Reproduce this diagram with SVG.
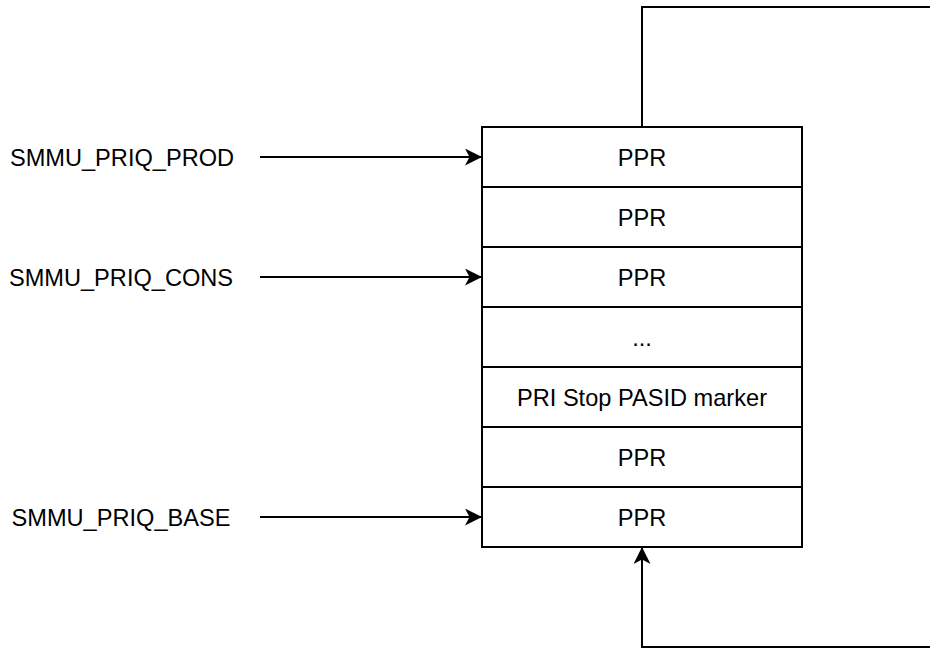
<svg xmlns="http://www.w3.org/2000/svg" width="930" height="648" viewBox="0 0 930 648">
  <defs>
    <marker id="arrow" viewBox="0 0 17 17" refX="17" refY="8.5" markerWidth="17" markerHeight="17" markerUnits="userSpaceOnUse" orient="auto">
      <path d="M0,0 L17,8.5 L0,17 L4.5,8.5 Z" fill="#000"/>
    </marker>
    <style>
      .cell { fill: #fff; stroke: #000; stroke-width: 2; }
      .txt { font-family: "Liberation Sans", Arial, sans-serif; font-size: 23.6px; fill: #000; text-anchor: middle; }
      .edge { fill: none; stroke: #000; stroke-width: 2; }
    </style>
  </defs>
  <rect width="930" height="648" fill="#fff"/>

  <!-- wrap-around connector: top of queue back to its base -->
  <g id="connectors">
    <path class="edge" d="M642,127 L642,7 L940,7 L940,647 L642,647 L642,547" marker-end="url(#arrow)"/>
    <path class="edge" d="M260,157 L482,157" marker-end="url(#arrow)"/>
    <path class="edge" d="M260,277 L482,277" marker-end="url(#arrow)"/>
    <path class="edge" d="M260,517 L482,517" marker-end="url(#arrow)"/>
  </g>

  <!-- queue entries -->
  <g id="entry1"><rect class="cell" x="482" y="127" width="320" height="60"/><text class="txt" x="642" y="165.5">PPR</text></g>
  <g id="entry2"><rect class="cell" x="482" y="187" width="320" height="60"/><text class="txt" x="642" y="225.5">PPR</text></g>
  <g id="entry3"><rect class="cell" x="482" y="247" width="320" height="60"/><text class="txt" x="642" y="285.5">PPR</text></g>
  <g id="entry4"><rect class="cell" x="482" y="307" width="320" height="60"/><text class="txt" x="642" y="345.5">...</text></g>
  <g id="entry5"><rect class="cell" x="482" y="367" width="320" height="60"/><text class="txt" x="642" y="405.5">PRI Stop PASID marker</text></g>
  <g id="entry6"><rect class="cell" x="482" y="427" width="320" height="60"/><text class="txt" x="642" y="465.5">PPR</text></g>
  <g id="entry7"><rect class="cell" x="482" y="487" width="320" height="60"/><text class="txt" x="642" y="525.5">PPR</text></g>

  <!-- register labels -->
  <g id="prod"><text class="txt" x="122" y="165.5">SMMU_PRIQ_PROD</text></g>
  <g id="cons"><text class="txt" x="121" y="285.5">SMMU_PRIQ_CONS</text></g>
  <g id="base"><text class="txt" x="121" y="525.5">SMMU_PRIQ_BASE</text></g>
</svg>
